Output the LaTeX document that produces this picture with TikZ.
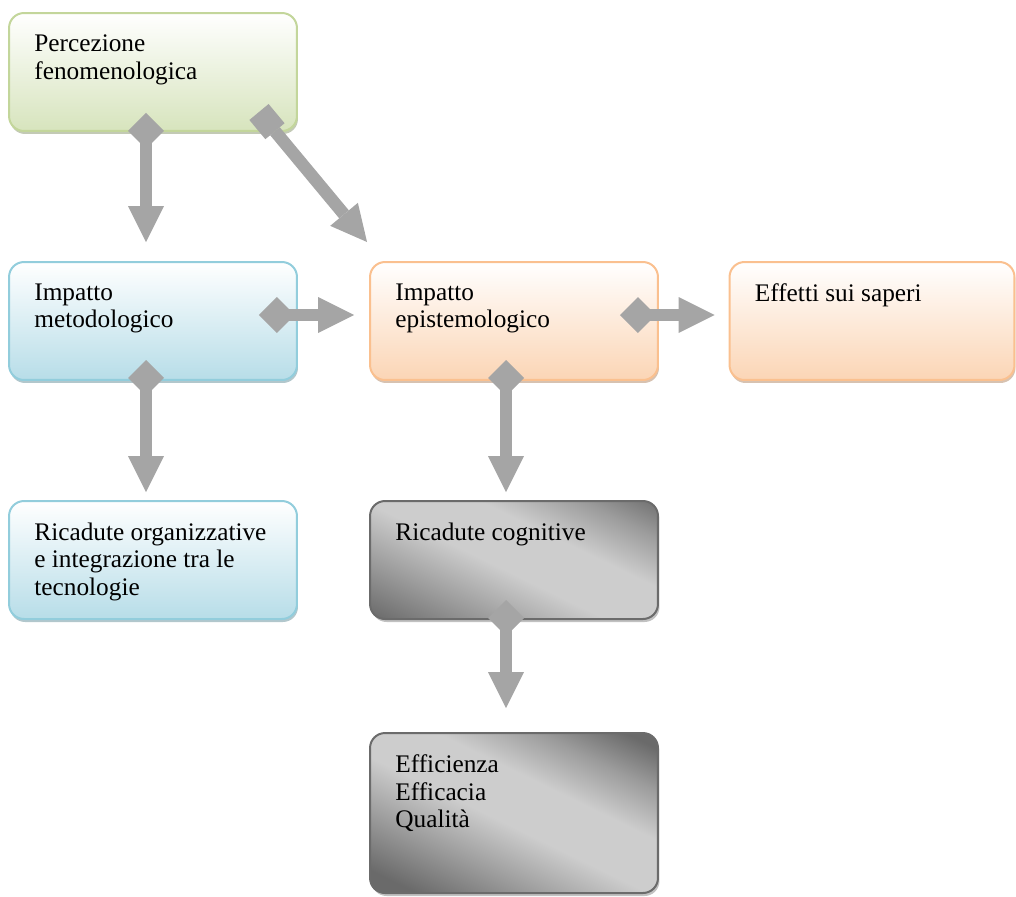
\documentclass[tikz,border=0pt]{standalone}
\usepackage{fontspec}
\setmainfont{Liberation Serif}
\usetikzlibrary{arrows.meta,shadows}

\definecolor{greenline}{HTML}{C3D69B}
\definecolor{greenfill}{HTML}{D7E4BD}
\definecolor{blueline}{HTML}{92CDDC}
\definecolor{bluefill}{HTML}{B7DDE8}
\definecolor{orangeline}{HTML}{FAC08F}
\definecolor{orangefill}{HTML}{FBD5B5}
\definecolor{greyline}{HTML}{6B6B6B}
\definecolor{greydark}{HTML}{6A6A6A}
\definecolor{greymid}{HTML}{9C9C9C}
\definecolor{greylight}{HTML}{CDCDCD}
\definecolor{arrowgrey}{HTML}{A5A5A5}

\pgfdeclarehorizontalshading{greyband}{100bp}{color(0bp)=(greydark); color(32bp)=(greydark); color(40bp)=(greymid); color(48bp)=(greylight); color(56bp)=(greylight); color(63bp)=(greymid); color(69bp)=(greydark); color(100bp)=(greydark)}

\tikzset{
  box/.style={rounded corners=0.3cm, line width=0.04cm, minimum width=5.76cm, minimum height=2.36cm, inner sep=0pt},
  greenbox/.style={box, draw=greenline, top color=white, bottom color=greenfill,
    drop shadow={shadow xshift=0.02cm, shadow yshift=-0.06cm, fill=greenline!70!black, opacity=.5}},
  bluebox/.style={box, draw=blueline, top color=white, bottom color=bluefill,
    drop shadow={shadow xshift=0.02cm, shadow yshift=-0.06cm, fill=blueline!70!black, opacity=.5}},
  orangebox/.style={box, draw=orangeline, top color=white, bottom color=orangefill,
    drop shadow={shadow xshift=0.02cm, shadow yshift=-0.06cm, fill=orangeline!70!black, opacity=.5}},
  greybox/.style={box, draw=greyline,
    path picture={\shade[shading=greyband, shading angle=64]
      ([shift={(-3.2cm,-3.2cm)}]path picture bounding box.center) rectangle ([shift={(3.2cm,3.2cm)}]path picture bounding box.center);},
    drop shadow={shadow xshift=0.03cm, shadow yshift=-0.06cm, fill=black!35, opacity=.7}},
  boxtext/.style={anchor=north west, inner sep=0pt, align=left, font=\fontsize{14.4}{15.6}\selectfont, xshift=0.52cm, yshift=-0.45cm},
  flow/.style={draw=arrowgrey, line width=0.25cm, {Diamond[width=0.72cm,length=0.72cm,line width=0pt]}-{Triangle[width=0.72cm,length=0.72cm,line width=0pt]}},
  flowsq/.style={flow, {Square[width=0.5cm,length=0.5cm,line width=0pt]}-{Triangle[width=0.72cm,length=0.72cm,line width=0pt]}}
}

\begin{document}
\begin{tikzpicture}[x=0.02cm, y=-0.02cm]
	\useasboundingbox (0,0) rectangle (1016,896);
	% boxes
	\node[greenbox, label={[boxtext]north west:{Percezione\\fenomenologica}}] (perc) at (153,72) {};
	\node[bluebox, label={[boxtext]north west:{Impatto\\metodologico}}] (metod) at (153,321) {};
	\node[orangebox, label={[boxtext]north west:{Impatto\\epistemologico}}] (epi) at (514,321) {};
	\node[orangebox, minimum width=5.7cm, label={[boxtext]north west:{Effetti sui saperi}}] (eff) at (872,321) {};
	\node[bluebox, label={[boxtext]north west:{Ricadute organizzative\\e integrazione tra le\\tecnologie}}] (ricorg) at (153,560) {};
	\node[greybox, label={[boxtext]north west:{Ricadute cognitive}}] (ricog) at (514,560) {};
	\node[greybox, minimum height=3.2cm, label={[boxtext]north west:{Efficienza\\Efficacia\\Qualità}}] (effi) at (514,813) {};
	% arrows
	\draw[flow] ([xshift=-0.14cm,yshift=0.38cm]perc.south) -- ([xshift=-0.14cm,yshift=0.38cm]metod.north);
	\draw[flowsq] ([xshift=-0.78cm,yshift=0.40cm]perc.south east) -- ([xshift=-0.04cm,yshift=0.38cm]epi.north west);
	\draw[flow] ([xshift=-0.78cm,yshift=0.12cm]metod.east) -- ([xshift=-0.30cm,yshift=0.12cm]epi.west);
	\draw[flow] ([xshift=-0.78cm,yshift=0.12cm]epi.east) -- ([xshift=-0.28cm,yshift=0.12cm]eff.west);
	\draw[flow] ([xshift=-0.14cm,yshift=0.42cm]metod.south) -- ([xshift=-0.14cm,yshift=0.16cm]ricorg.north);
	\draw[flow] ([xshift=-0.16cm,yshift=0.42cm]epi.south) -- ([xshift=-0.16cm,yshift=0.16cm]ricog.north);
	\draw[flow] ([xshift=-0.16cm,yshift=0.40cm]ricog.south) -- ([xshift=-0.16cm,yshift=0.48cm]effi.north);
\end{tikzpicture}
\end{document}
